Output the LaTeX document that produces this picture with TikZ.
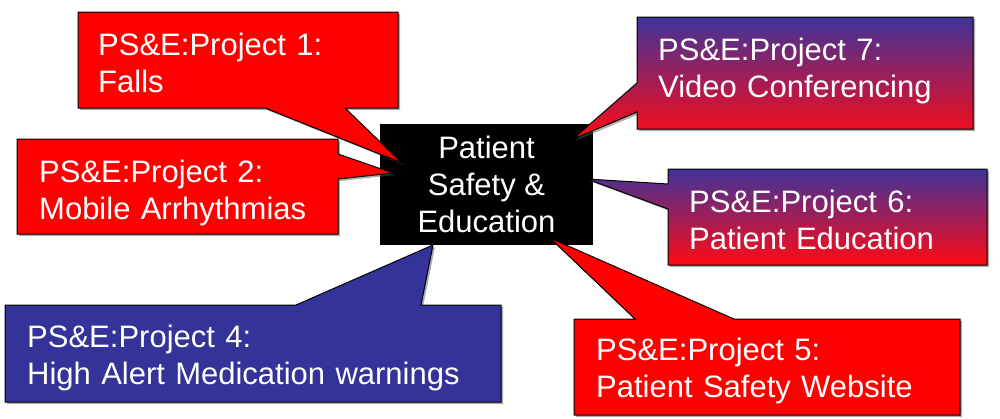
\documentclass[tikz,border=0pt]{standalone}
\usepackage{fontspec}
\setmainfont{Liberation Sans}
\usepackage{tikz}
\usetikzlibrary{shadows}
\definecolor{c0}{HTML}{FF0000}
\definecolor{c1}{HTML}{333399}
\definecolor{c2}{HTML}{3F3399}
\definecolor{c3}{HTML}{C8247A}
\definecolor{c4}{HTML}{FF0A14}

\begin{document}
\begin{tikzpicture}[x=1pt,y=-1pt,
  box/.style={draw=black,line width=1pt,drop shadow={shadow xshift=2pt,shadow yshift=-2pt,fill=black!65}},
  redbox/.style={box,fill=c0},
  bluebox/.style={box,fill=c1},
  fadebox/.style={box,top color=c2,middle color=c3,bottom color=c4},
  lbl/.style={anchor=base west,text=white,inner sep=0pt,text width=480pt,align=left,font=\fontsize{31}{37}\selectfont},
  hub/.style={fill=black,text=white,inner sep=0pt,minimum width=213pt,minimum height=121pt,align=center,font=\fontsize{31}{37}\selectfont}]

\useasboundingbox (0,0) rectangle (1000,418);

% centre box
\node[hub] (hub) at (486.5,184.5) {Patient\\Safety \&\\Education};

% pointer tips
\coordinate (p1) at (402,163);
\coordinate (p2) at (393,173);
\coordinate (p4) at (433,245);
\coordinate (p5) at (550,238);
\coordinate (p6) at (587,179);
\coordinate (p7) at (573,139);

% callouts
\draw[redbox] (17,139) -- (338,139) -- (338,154) -- (p2) -- (338,179) -- (338,234) -- (17,234) -- cycle;
\draw[redbox] (78,12) -- (398,12) -- (398,108) -- (345,108) -- (p1) -- (265,108) -- (78,108) -- cycle;
\draw[bluebox] (5,305) -- (296,305) -- (p4) -- (421,305) -- (501,305) -- (501,402) -- (5,402) -- cycle;
\draw[redbox] (574,319) -- (635,319) -- (p5) -- (734,319) -- (960,319) -- (960,415) -- (574,415) -- cycle;
\draw[fadebox] (637,17) -- (973,17) -- (973,129) -- (637,129) -- (637,112) -- (p7) -- (637,83) -- cycle;
\draw[fadebox] (668,169) -- (987,169) -- (987,265) -- (668,265) -- (668,209) -- (p6) -- (668,184) -- cycle;

% labels
\node[lbl] (t1) at (98,55) {PS\&E:Project 1:\\Falls};
\node[lbl] (t2) at (39,182) {PS\&E:Project 2:\\Mobile Arrhythmias};
\node[lbl] (t4) at (27,347) {PS\&E:Project 4:\\High Alert Medication warnings};
\node[lbl] (t5) at (596,360) {PS\&E:Project 5:\\Patient Safety Website};
\node[lbl] (t6) at (689,212) {PS\&E:Project 6:\\Patient Education};
\node[lbl] (t7) at (658,60) {PS\&E:Project 7:\\Video Conferencing};

\end{tikzpicture}
\end{document}
